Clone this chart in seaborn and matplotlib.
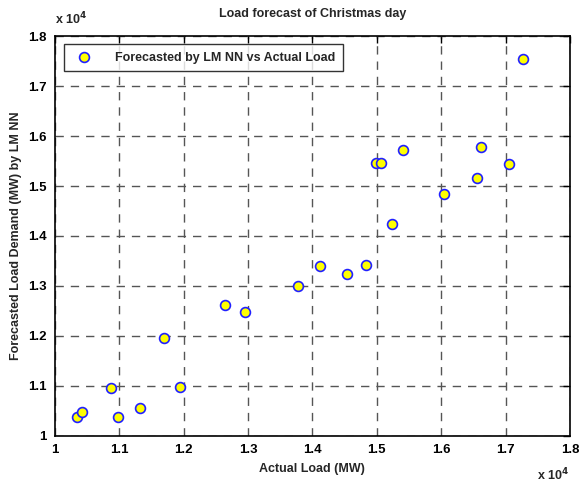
import matplotlib
matplotlib.use("Agg")
import matplotlib.pyplot as plt
import seaborn as sns
import pandas as pd

# values in units of 10^4 MW
actual_load = [1.034, 1.043, 1.088, 1.099, 1.132, 1.169, 1.195, 1.265, 1.295,
               1.377, 1.412, 1.454, 1.484, 1.499, 1.506, 1.524, 1.541,
               1.605, 1.656, 1.662, 1.705, 1.727]
forecast_load = [1.037, 1.048, 1.096, 1.037, 1.055, 1.195, 1.097, 1.262, 1.247,
                 1.299, 1.340, 1.324, 1.342, 1.547, 1.547, 1.423, 1.572,
                 1.484, 1.517, 1.579, 1.545, 1.755]
ticks = [1.0, 1.1, 1.2, 1.3, 1.4, 1.5, 1.6, 1.7, 1.8]
tick_labels = ["1", "1.1", "1.2", "1.3", "1.4", "1.5", "1.6", "1.7", "1.8"]

df = pd.DataFrame({"actual": actual_load, "forecast": forecast_load})

sns.set_style("white")
plt.rcParams["font.family"] = ["Liberation Sans", "DejaVu Sans"]
plt.rcParams["font.weight"] = "bold"

fig = plt.figure(figsize=(5.79, 4.84), dpi=100)
ax = fig.add_axes([0.0945, 0.0992, 0.89, 0.8264])

sns.scatterplot(data=df, x="actual", y="forecast", ax=ax, s=50,
                color="#ffff00", edgecolor="#2020ff", linewidth=1.2,
                label="Forecasted by LM NN vs Actual Load", zorder=3)

ax.set_xlim(1.0, 1.8)
ax.set_ylim(1.0, 1.8)
ax.set_xticks(ticks)
ax.set_yticks(ticks)
ax.set_xticklabels(tick_labels, fontsize=9.5, fontweight="bold")
ax.set_yticklabels(tick_labels, fontsize=9.5, fontweight="bold")
ax.tick_params(direction="in", length=5, width=1, top=True, right=True,
               pad=6, colors="black")
ax.grid(True, color="#555555", linestyle=(0, (6, 5)), linewidth=1)
for sp in ax.spines.values():
    sp.set_color("black")
    sp.set_linewidth(1.2)

ax.set_xlabel("Actual Load (MW)", fontsize=9, fontweight="bold", labelpad=5)
ax.set_ylabel("Forecasted Load Demand (MW) by LM NN", fontsize=9,
              fontweight="bold", labelpad=4)
ax.set_title("Load forecast of Christmas day", fontsize=9, fontweight="bold",
             pad=14)

ax.text(0.0, 1.03, r"x 10$^{4}$", transform=ax.transAxes, fontsize=9,
        fontweight="bold", ha="left", va="baseline")
ax.text(0.998, -0.11, r"x 10$^{4}$", transform=ax.transAxes, fontsize=9,
        fontweight="bold", ha="right", va="baseline")

leg = ax.legend(loc="upper left", bbox_to_anchor=(0.005, 0.995), fontsize=9,
                frameon=True, fancybox=False, edgecolor="black",
                borderpad=0.6, handletextpad=1.5, markerscale=1.0,
                prop={"weight": "bold", "size": 9})
leg.get_frame().set_linewidth(1.0)

fig.savefig("out.png", dpi=100)
